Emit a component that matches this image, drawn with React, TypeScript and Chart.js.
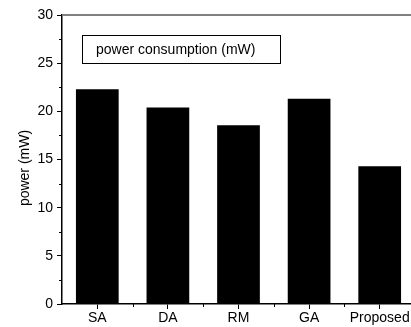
import React, { useEffect, useRef } from "react";
import { Chart, registerables } from "chart.js";

Chart.register(...registerables);

const categories = ["SA", "DA", "RM", "GA", "Proposed"];
const powerValues = [22.3, 20.4, 18.55, 21.3, 14.3];
const seriesLabel = "power consumption (mW)";
const yAxisTitle = "power (mW)";
const yMin = 0;
const yMax = 30;
const yStep = 5;
const yMinorValues = [2.5, 7.5, 12.5, 17.5, 22.5, 27.5];

const FONT = "'Liberation Sans', Arial, sans-serif";

const decorPlugin = {
  id: "decor",
  afterDraw(chart: any) {
    const { ctx, chartArea, scales } = chart;
    const xs = scales.x;
    const ys = scales.y;
    ctx.save();
    // top frame line
    ctx.strokeStyle = "#808080";
    ctx.lineWidth = 2;
    ctx.beginPath();
    ctx.moveTo(chartArea.left, chartArea.top);
    ctx.lineTo(chart.width, chartArea.top);
    ctx.stroke();
    // minor y ticks
    ctx.strokeStyle = "#000";
    ctx.lineWidth = 1;
    yMinorValues.forEach((v) => {
      const y = Math.round(ys.getPixelForValue(v)) + 0.5;
      ctx.beginPath();
      ctx.moveTo(chartArea.left - 3, y);
      ctx.lineTo(chartArea.left, y);
      ctx.stroke();
    });
    // minor x ticks at category boundaries
    for (let i = 0; i < categories.length; i++) {
      const x = Math.round(xs.getPixelForValue(i + 0.5)) + 0.5;
      ctx.beginPath();
      ctx.moveTo(x, chartArea.bottom);
      ctx.lineTo(x, chartArea.bottom + 3);
      ctx.stroke();
    }
    // legend box
    ctx.strokeStyle = "#000";
    ctx.lineWidth = 1;
    ctx.strokeRect(82.5, 35.5, 198, 28);
    ctx.fillStyle = "#000";
    ctx.font = `14px ${FONT}`;
    ctx.textAlign = "left";
    ctx.textBaseline = "middle";
    ctx.fillText(chart.data.datasets[0].label, 96, 50);
    // y-axis title
    ctx.translate(25, 168);
    ctx.rotate(-Math.PI / 2);
    ctx.textAlign = "center";
    ctx.textBaseline = "middle";
    ctx.fillText(yAxisTitle, 0, 0);
    ctx.restore();
  },
};

export default function App() {
  const canvasRef = useRef<HTMLCanvasElement | null>(null);

  useEffect(() => {
    const canvas = canvasRef.current;
    if (!canvas) return;
    const chart = new Chart(canvas, {
      type: "bar",
      data: {
        labels: categories,
        datasets: [
          {
            label: seriesLabel,
            data: powerValues,
            backgroundColor: "#000000",
            borderWidth: 0,
            categoryPercentage: 1,
            barPercentage: 0.605,
          },
        ],
      },
      options: {
        responsive: false,
        animation: false,
        devicePixelRatio: 1,
        layout: { padding: { left: 0, top: 15, right: 10, bottom: 0 } },
        plugins: {
          legend: { display: false },
          tooltip: { enabled: false },
        },
        scales: {
          x: {
            type: "category",
            offset: true,
            grid: {
              offset: false,
              drawOnChartArea: false,
              drawTicks: true,
              tickLength: 5,
              color: "#000",
            },
            border: { display: true, color: "#000", width: 1.5 },
            ticks: {
              color: "#000",
              font: { family: FONT, size: 14 },
              padding: 1,
              maxRotation: 0,
              autoSkip: false,
            },
            afterFit(scale: any) {
              scale.height = 23;
            },
          },
          y: {
            min: yMin,
            max: yMax,
            grid: {
              drawOnChartArea: false,
              drawTicks: true,
              tickLength: 5,
              color: "#000",
            },
            border: { display: true, color: "#000", width: 1.5 },
            ticks: {
              stepSize: yStep,
              color: "#000",
              font: { family: FONT, size: 14 },
              padding: 4,
            },
            afterFit(scale: any) {
              scale.width = 62;
            },
          },
        },
      },
      plugins: [decorPlugin],
    });
    return () => chart.destroy();
  }, []);

  return (
    <div
      style={{
        position: "fixed",
        left: 0,
        top: 0,
        width: 411,
        height: 327,
        overflow: "hidden",
        background: "#fff",
      }}
    >
      <canvas ref={canvasRef} width={425} height={327} style={{ display: "block" }} />
    </div>
  );
}
